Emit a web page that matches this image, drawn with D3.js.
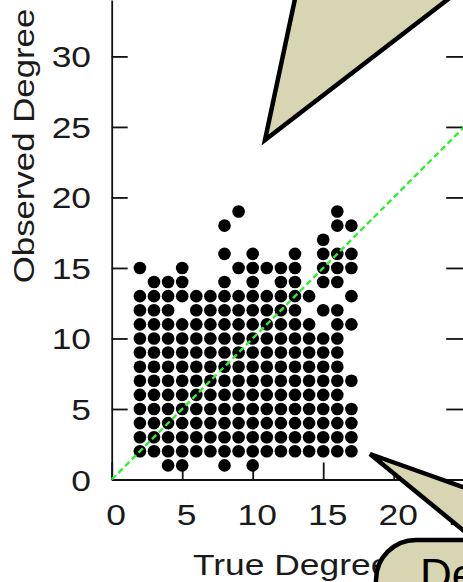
<!DOCTYPE html>
<html>
<head>
<meta charset="utf-8">
<script src="https://cdn.jsdelivr.net/npm/d3@7.9.0/dist/d3.min.js"></script>
<style>
  body { margin: 0; background: #fff; }
  svg { display: block; }
  text { font-family: "Liberation Sans", Arial, sans-serif; fill: #1a1a1a; }
</style>
</head>
<body>
<svg id="chart" width="463" height="582"></svg>
<script>
// observed degree of each row, and the true degrees that have a point in that row
const observedRows = [1, 2, 3, 4, 5, 6, 7, 8, 9, 10, 11, 12, 13, 14, 15, 16, 17, 18, 19];
const trueByRow = [
    [4, 5, 8, 10],
    [2, 3, 4, 5, 6, 7, 8, 9, 10, 11, 12, 13, 14, 15, 16, 17],
    [2, 3, 4, 5, 6, 7, 8, 9, 10, 11, 12, 13, 14, 15, 16, 17],
    [2, 3, 4, 5, 6, 7, 8, 9, 10, 11, 12, 13, 14, 15, 16, 17],
    [2, 3, 4, 5, 6, 7, 8, 9, 10, 11, 12, 13, 14, 15, 16, 17],
    [2, 3, 4, 5, 6, 7, 8, 9, 10, 11, 12, 13, 14, 15, 16],
    [2, 3, 4, 5, 6, 7, 8, 9, 10, 11, 12, 13, 14, 15, 16, 17],
    [2, 3, 4, 5, 6, 7, 8, 9, 10, 11, 12, 13, 14, 15, 16],
    [2, 3, 4, 5, 6, 7, 8, 9, 10, 11, 12, 13, 14, 15, 16],
    [2, 3, 4, 5, 6, 7, 8, 9, 10, 11, 12, 13, 14, 15, 16],
    [2, 3, 4, 5, 6, 7, 8, 9, 10, 11, 12, 13, 14, 16, 17],
    [2, 3, 4, 6, 7, 8, 9, 10, 11, 12, 13, 15, 16],
    [2, 3, 4, 5, 6, 7, 8, 9, 10, 11, 12, 13, 14, 17],
    [3, 4, 5, 8, 10, 12, 13, 15, 16],
    [2, 5, 9, 10, 11, 12, 13, 15, 16, 17],
    [8, 10, 13, 15, 16, 17],
    [15],
    [8, 16, 17],
    [9, 16],
];
const diagonal = [0, 25];
const xTicks = [0, 5, 10, 15, 20, 25];
const yTicks = [0, 5, 10, 15, 20, 25, 30];
const xLabel = 'True Degree';
const yLabel = 'Observed Degree';
const calloutText = 'De';

let svg = d3.select('#chart');
svg.append('rect').attr('width', 463).attr('height', 582).attr('fill', '#fff');

let x = d3.scaleLinear().domain([0, 25]).range([111.7, 464.2]);
let y = d3.scaleLinear().domain([0, 34]).range([479.5, 0]);

// flatten rows into points
let points = [];
observedRows.forEach((obs, i) => {
    trueByRow[i].forEach((t) => points.push({ t: t, obs: obs }));
});

// axes, ticks point inwards
let axisColor = '#111';
let left = svg.append('g')
    .attr('transform', `translate(${x(0)},0)`)
    .call(d3.axisLeft(y).tickValues(yTicks).tickSizeInner(-16).tickSizeOuter(0).tickFormat(''));
let bottom = svg.append('g')
    .attr('transform', `translate(0,${y(0)})`)
    .call(d3.axisBottom(x).tickValues(xTicks).tickSizeInner(-17).tickSizeOuter(0).tickFormat(''));
let right = svg.append('g')
    .attr('transform', `translate(${x(25)},0)`)
    .call(d3.axisRight(y).tickValues(yTicks).tickSizeInner(-18).tickSizeOuter(0).tickFormat(''));
[left, bottom, right].forEach((g) => {
    g.attr('color', axisColor);
    g.selectAll('path, line').attr('stroke-width', 1.8);
});

// tick labels (font is a bit wider than Arial, so stretch it)
svg.append('g').selectAll('text')
    .data(yTicks)
    .join('text')
    .attr('transform', (d) => `translate(91,${y(d) + 11}) scale(1.18,1)`)
    .attr('text-anchor', 'end')
    .attr('font-size', 30)
    .text((d) => d);
svg.append('g').selectAll('text')
    .data(xTicks)
    .join('text')
    .attr('transform', (d) => `translate(${x(d) + 4.5},525) scale(1.18,1)`)
    .attr('text-anchor', 'middle')
    .attr('font-size', 30)
    .text((d) => d);

// axis titles
svg.append('text')
    .attr('transform', 'translate(193,575) scale(1.18,1)')
    .attr('font-size', 30)
    .text(xLabel);
svg.append('text')
    .attr('transform', 'translate(34,146) rotate(-90) scale(1.16,1)')
    .attr('text-anchor', 'middle')
    .attr('font-size', 30)
    .text(yLabel);

// points
svg.append('g').selectAll('circle')
    .data(points)
    .join('circle')
    .attr('cx', (d) => x(d.t))
    .attr('cy', (d) => y(d.obs))
    .attr('r', 6.3)
    .attr('fill', '#000');

// y = x reference line
svg.append('line')
    .attr('x1', x(diagonal[0]))
    .attr('y1', y(diagonal[0]))
    .attr('x2', x(diagonal[1]))
    .attr('y2', y(diagonal[1]))
    .attr('stroke', '#33ee33')
    .attr('stroke-width', 2.4)
    .attr('stroke-dasharray', '6,3.5');

// slide callouts drawn over the chart
let calloutFill = '#d8d6b2';
let wedge = d3.line();
svg.append('rect')
    .attr('x', 376)
    .attr('y', 540)
    .attr('width', 260)
    .attr('height', 120)
    .attr('rx', 40)
    .attr('fill', calloutFill)
    .attr('stroke', '#000')
    .attr('stroke-width', 4.5);
svg.append('path')
    .attr('d', wedge([[370, 454], [530, 511], [530, 585]]) + 'Z')
    .attr('fill', calloutFill)
    .attr('stroke', '#000')
    .attr('stroke-width', 4.5)
    .attr('stroke-linejoin', 'miter');
svg.append('path')
    .attr('d', wedge([[265, 140], [299, -20], [473, -20]]) + 'Z')
    .attr('fill', calloutFill)
    .attr('stroke', '#000')
    .attr('stroke-width', 4.5)
    .attr('stroke-linejoin', 'miter');
svg.append('text')
    .attr('x', 420)
    .attr('y', 590)
    .attr('font-size', 44)
    .style('fill', '#000')
    .text(calloutText);
</script>
</body>
</html>
